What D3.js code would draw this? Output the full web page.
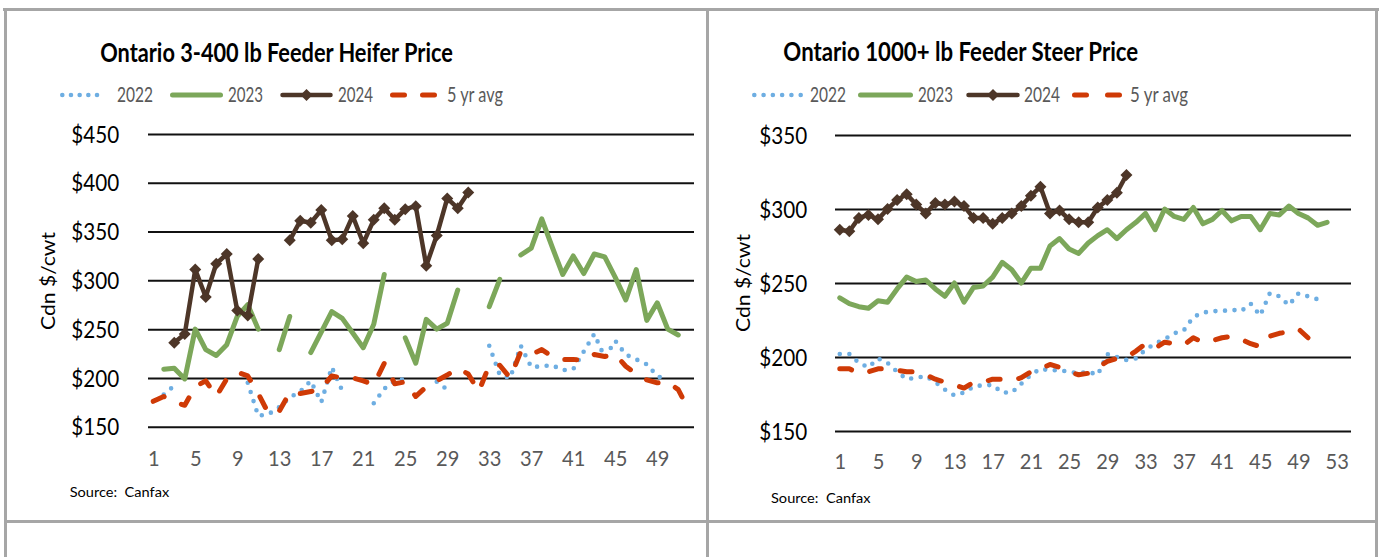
<!DOCTYPE html>
<html><head><meta charset="utf-8">
<script src="https://cdn.jsdelivr.net/npm/d3@7"></script>
<style>
html,body{margin:0;padding:0;background:#fff;}
svg{display:block;}
text{font-family:Lato,"Open Sans",sans-serif;}
</style></head>
<body><svg id="c" width="1380" height="557"></svg>
<script>
// ---------- DATA ----------
const seriesNames = ["2022","2023","2024","5 yr avg"];
const heiferWeeks = d3.range(1, 53);
const steerWeeks = d3.range(1, 55);
const heiferTicks = [150,200,250,300,350,400,450];
const steerTicks = [150,200,250,300,350];
const heiferXTicks = [1,5,9,13,17,21,25,29,33,37,41,45,49];
const steerXTicks = [1,5,9,13,17,21,25,29,33,37,41,45,49,53];

const heifer2022 = [null,183,192,null,null,null,null,null,null,195,161,163,170,180,186,197,175,211,187,null,null,174,189,197,199,null,null,196,188,null,null,null,233,203,200,233,211,212,213,208,209,227,245,221,238,224,219,214,202,197,null,null];
const heifer2023 = [null,209,210,199,250,229,223,234,263,275,250,null,229,263,null,226,247,268,261,246,231,255,306,null,241,215,260,250,256,290,null,null,273,301,null,326,333,363,334,306,325,307,327,324,303,280,311,259,277,250,244,null];
const heifer2024 = [null,null,236,245,311,283,317,327,269,264,322,null,null,341,361,359,372,341,342,366,338,362,374,362,373,376,315,346,384,374,390];
const heiferAvg  = [176,181,175,172,191,197,181,199,206,202,184,163,166,185,184,186,189,202,200,200,197,193,215,194,196,181,191,197,203,210,204,186,213,213,200,227,224,229,222,219,219,218,224,222,224,212,204,198,195,196,188,167];

const steer2022 = [202,202,196,193,199,196,190,185,186,187,183,178,174,176,180,181,181,176,176,182,188,192,191,191,190,189,190,188,202,200,198,199,205,209,212,216,218,227,230,231,231,232,231,236,228,243,241,235,243,241,239];
const steer2023 = [240,236,234,233,238,237,246,254,251,252,246,241,250,237,247,248,254,264,259,250,260,260,275,280,273,270,277,282,286,280,286,291,297,286,300,295,293,301,290,293,299,292,295,295,286,297,296,302,297,294,289,291];
const steer2024 = [286,285,294,296,293,300,306,310,303,297,304,303,305,302,294,294,290,294,297,302,309,315,297,299,293,291,291,301,306,311,323];
const steerAvg   = [192,192,189,190,192,192,191,190,190,188,185,183,181,179,183,183,185,185,184,186,190,192,195,193,190,188,189,193,197,199,200,204,209,206,210,209,208,213,210,211,213,214,212,209,207,214,216,217,219,213];

// ---------- STYLE ----------
const COL = {c22:"#6eaee2", c23:"#7ca75a", c24:"#4d3628", avg:"#cf3a06", grid:"#111", border:"#a6a6a6", gray:"#595959"};
const styles = [
  {color:COL.c22, width:4.6, dash:"0 9.6", cap:"round"},
  {color:COL.c23, width:5,   dash:null,    cap:"round"},
  {color:COL.c24, width:4.5, dash:null,    cap:"round", marker:true},
  {color:COL.avg, width:5,   dash:"12 19", cap:"round"}
];

const svg = d3.select("#c");

function label(g, str, x, y, size, targetW, o) {
  o = o || {};
  const t = g.append("text").attr("font-size", size).attr("font-weight", o.bold ? 700 : 400)
    .attr("fill", o.fill || "#000").attr("text-anchor", o.anchor || "start").text(str);
  const nat = t.node().getComputedTextLength();
  const sx = targetW ? targetW / nat : 1;
  let tr = `translate(${x},${y})`;
  if (o.rotate) tr += ` rotate(${o.rotate})`;
  tr += ` scale(${sx},1)`;
  t.attr("transform", tr);
  return t;
}
function diamond(r){ return `M0,${-r}L${r},0L0,${r}L${-r},0Z`; }

// ---------- PANELS ----------
const B = svg.append("g").attr("fill", COL.border);
B.append("rect").attr("x",3).attr("y",8).attr("width",1376).attr("height",3);
B.append("rect").attr("x",4).attr("y",8).attr("width",3).attr("height",549);
B.append("rect").attr("x",706).attr("y",8).attr("width",3).attr("height",549);
B.append("rect").attr("x",1375).attr("y",8).attr("width",3).attr("height",549);
B.append("rect").attr("x",4).attr("y",520).attr("width",1374).attr("height",3);

function chart(cfg) {
  const g = svg.append("g");
  const x = d3.scalePoint().domain(cfg.weeks).range([cfg.x0, cfg.x1]).padding(0.5);
  const y = d3.scaleLinear().domain([cfg.ticks[0], cfg.ticks[cfg.ticks.length-1]]).range([cfg.yb, cfg.yt]);

  // gridlines + y labels
  const ya = g.append("g").attr("transform", `translate(${cfg.x0},0)`)
    .call(d3.axisLeft(y).tickValues(cfg.ticks).tickSize(-(cfg.x1 - cfg.x0)).tickPadding(0).tickFormat(d => "$" + d));
  ya.select(".domain").remove();
  ya.selectAll(".tick line").attr("stroke", COL.grid).attr("stroke-width", 2);
  ya.selectAll(".tick text").each(function(){
    d3.select(this).attr("x", null).attr("dy", "0.36em").attr("font-size", 22.5).attr("font-family", "Lato").attr("fill", "#000").attr("text-anchor", "end");
  });
  const sample = ya.selectAll(".tick text").filter(d => d === cfg.ticks[cfg.ticks.length-1]).node();
  const ysx = 48 / sample.getComputedTextLength();
  ya.selectAll(".tick text").attr("transform", `translate(${-cfg.ylabGap},0) scale(${ysx},1)`);

  // x labels
  const xa = g.append("g").attr("transform", `translate(0,${cfg.yb})`)
    .call(d3.axisBottom(x).tickValues(cfg.xticks).tickSize(0).tickPadding(0));
  xa.select(".domain").remove();
  xa.selectAll(".tick text").attr("y", null).attr("dy", null).attr("font-size", 21.5).attr("font-family", "Lato").attr("fill", COL.gray);
  const xs = xa.selectAll(".tick text").filter(d => d === 29).node();
  const xsx = 23.3 / xs.getComputedTextLength();
  xa.selectAll(".tick text").attr("transform", `translate(0,${cfg.xlabBase - cfg.yb}) scale(${xsx},1)`);

  // series
  const line = d3.line().defined(d => d[1] != null).x(d => x(d[0])).y(d => y(d[1]));
  cfg.series.forEach((data, i) => {
    const st = styles[i];
    const pts = data.map((v, k) => [cfg.weeks[k], v]);
    g.append("path").attr("d", line(pts)).attr("fill", "none").attr("stroke", st.color)
      .attr("stroke-width", st.width).attr("stroke-dasharray", st.dash).attr("stroke-linecap", st.cap).attr("stroke-linejoin", "round");
    if (st.marker) {
      g.append("g").selectAll("path").data(pts.filter(d => d[1] != null)).join("path")
        .attr("d", diamond(6)).attr("transform", d => `translate(${x(d[0])},${y(d[1])})`).attr("fill", st.color);
    }
  });

  // title
  label(g, cfg.title, cfg.titleX, cfg.titleY, 27, cfg.titleW, {bold:true, anchor:"middle"});

  // legend
  const L = cfg.legend;
  const ly = 95;
  seriesNames.forEach((name, i) => {
    const st = styles[i];
    const [a, b, tx, tw] = L[i];
    if (i === 3) {
      g.append("path").attr("d", `M${a+2.5},${ly}L${b-2.5},${ly}`).attr("stroke", st.color).attr("stroke-width", st.width)
        .attr("stroke-linecap", "round").attr("stroke-dasharray", `12 ${(b-a-5-12-12) + 0.01}`).attr("fill","none");
    } else if (i === 0) {
      g.append("path").attr("d", `M${a+2.3},${ly}L${b-2.3},${ly}`).attr("stroke", st.color).attr("stroke-width", st.width)
        .attr("stroke-linecap", "round").attr("stroke-dasharray", `0 ${(b-a-4.6)/5}`).attr("fill","none");
    } else {
      g.append("path").attr("d", `M${a+2.5},${ly}L${b-2.5},${ly}`).attr("stroke", st.color).attr("stroke-width", st.width)
        .attr("stroke-linecap", "round").attr("fill","none");
      if (st.marker) g.append("path").attr("d", diamond(6)).attr("transform", `translate(${(a+b)/2},${ly})`).attr("fill", st.color);
    }
    label(g, name, tx, 101.7, 21, tw, {fill: COL.gray});
  });

  // y title
  label(g, "Cdn $/cwt", cfg.ytX, cfg.ytY, 19.5, 98, {anchor:"middle", rotate:-90});
  // source
  label(g, "Source:\u00A0 Canfax", cfg.srcX, cfg.srcY, 13.5, 99.5, {});
}

chart({
  weeks: heiferWeeks, ticks: heiferTicks, xticks: heiferXTicks,
  x0: 148, x1: 694, yt: 134, yb: 426.7, ylabGap: 28.7, xlabBase: 465.5,
  series: [heifer2022, heifer2023, heifer2024, heiferAvg],
  title: "Ontario 3-400 lb Feeder Heifer Price", titleX: 276.5, titleY: 61.7, titleW: 353,
  legend: [[60,108,117,36],[170,223,228,35],[280,333,338,35],[390,437,447,56]],
  ytX: 55, ytY: 281, srcX: 69.7, srcY: 497.3
});
chart({
  weeks: steerWeeks, ticks: steerTicks, xticks: steerXTicks,
  x0: 835, x1: 1351, yt: 135, yb: 431, ylabGap: 27.7, xlabBase: 469.3,
  series: [steer2022, steer2023, steer2024, steerAvg],
  title: "Ontario 1000+ lb Feeder Steer Price", titleX: 960.8, titleY: 60.5, titleW: 355,
  legend: [[752,803,810,36],[858,913,918,35],[966,1020,1024,36],[1072,1122,1130,58]],
  ytX: 750, ytY: 283, srcX: 771, srcY: 502.7
});
</script>
</body></html>
